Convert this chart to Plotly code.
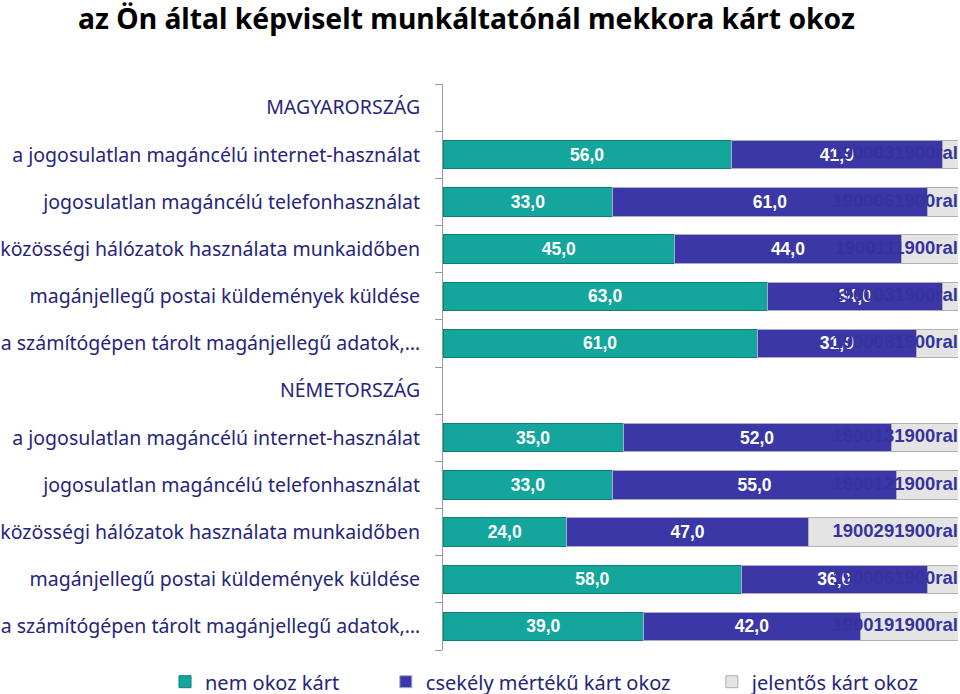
import plotly.graph_objects as go

categories = [
    "MAGYARORSZÁG",
    "a jogosulatlan magáncélú internet-használat",
    "jogosulatlan magáncélú telefonhasználat",
    "közösségi hálózatok használata munkaidőben",
    "magánjellegű postai küldemények küldése",
    "a számítógépen tárolt magánjellegű adatok,…",
    "NÉMETORSZÁG",
    "a jogosulatlan magáncélú internet-használat",
    "jogosulatlan magáncélú telefonhasználat",
    "közösségi hálózatok használata munkaidőben",
    "magánjellegű postai küldemények küldése",
    "a számítógépen tárolt magánjellegű adatok,…",
]
nem_okoz = [None, 56, 33, 45, 63, 61, None, 35, 33, 24, 58, 39]
csekely = [None, 41, 61, 44, 34, 31, None, 52, 55, 47, 36, 42]
jelentos = [None, 3, 6, 11, 3, 8, None, 13, 12, 29, 6, 19]
jelentos_labels = ["", "1900031900ral", "1900061900ral", "1900111900ral", "1900031900ral",
                   "1900081900ral", "", "1900131900ral", "1900121900ral", "1900291900ral",
                   "1900061900ral", "1900191900ral"]
series_names = ["nem okoz kárt", "csekély mértékű kárt okoz", "jelentős kárt okoz"]

ypos = list(range(len(categories)))

def fmt(v):
    return "" if v is None else f"{v:.1f}".replace(".", ",")

teal = "#14A69D"
blue = "#3B37A6"
grey = "#E4E4E4"
navy = "#25257A"
label_navy = "#36339F"

fig = go.Figure()
fig.add_trace(go.Bar(
    y=ypos, x=nem_okoz, orientation="h", name=series_names[0] + "\u00a0" * 8,
    marker=dict(color=teal, line=dict(color="#0B7F78", width=1)),
    text=[fmt(v) for v in nem_okoz], texttemplate="<b>%{text}</b>",
    textposition="inside", insidetextanchor="middle",
    textfont=dict(family="Liberation Sans", size=17.5, color="white"),
    width=0.6,
))
fig.add_trace(go.Bar(
    y=ypos, x=csekely, orientation="h", name=series_names[1] + "\u00a0" * 7,
    marker=dict(color=blue, line=dict(color="#A9A9C8", width=1)),
    text=[fmt(v) for v in csekely], texttemplate="<b>%{text}</b>",
    textposition="inside", insidetextanchor="middle",
    textfont=dict(family="Liberation Sans", size=17.5, color="white"),
    width=0.6,
))
fig.add_trace(go.Bar(
    y=ypos, x=jelentos, orientation="h", name=series_names[2],
    marker=dict(color=grey, line=dict(color="#B0B0B0", width=1)),
    textposition="none", width=0.6,
))
fig.add_trace(go.Scatter(
    y=ypos, x=[100] * len(ypos), mode="text", text=jelentos_labels,
    texttemplate="<b>%{text}</b>",
    textposition="middle left", showlegend=False, hoverinfo="skip",
    textfont=dict(family="Liberation Sans", size=18.5, color=label_navy),
    cliponaxis=False,
))

fig.update_layout(
    width=960, height=694,
    barmode="stack",
    paper_bgcolor="white", plot_bgcolor="white",
    margin=dict(l=443, r=2, t=84, b=44, autoexpand=False),
    title=dict(text="<b>az Ön által képviselt munkáltatónál mekkora kárt okoz</b>",
               x=78 / 960, xanchor="left", y=1 - 19 / 694, yanchor="middle",
               font=dict(family="Noto Sans", size=28.3, color="black")),
    showlegend=True,
    legend=dict(orientation="h", x=(165 - 443) / 515, xanchor="left",
                y=-0.056, yanchor="middle",
                font=dict(family="Noto Sans", size=20, color=navy),
                traceorder="normal"),
    font=dict(family="Noto Sans", color=navy),
)
fig.update_xaxes(range=[0, 100], visible=False, fixedrange=True, automargin=False)
fig.update_yaxes(
    range=[11.5, -0.5], tickmode="array", tickvals=ypos, ticktext=categories,
    tickfont=dict(family="Noto Sans", size=19.5, color=navy),
    ticks="", automargin=False, ticklabelstandoff=18,
    showline=True, linecolor="#9A9A9A", linewidth=1,
    showgrid=False, zeroline=False,
    minor=dict(tickmode="array", tickvals=[i - 0.5 for i in range(13)],
               ticks="outside", ticklen=7, tickcolor="#9A9A9A"),
)

fig.write_html("out.html", post_script="document.body.style.margin='0';",
               config={"displayModeBar": False})
